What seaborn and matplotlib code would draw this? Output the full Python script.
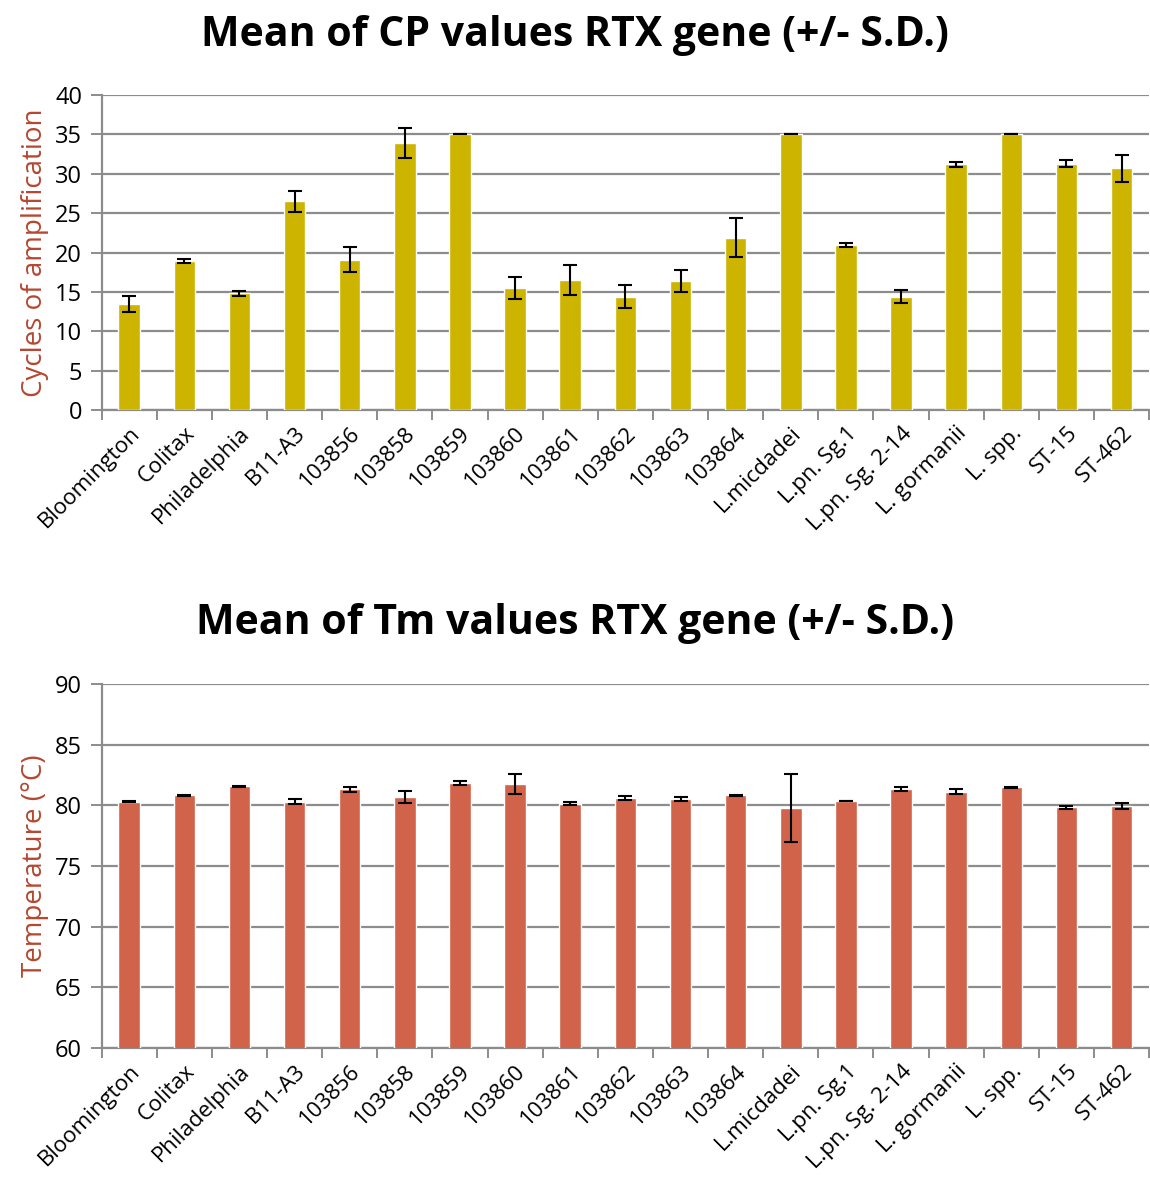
import numpy as np
import pandas as pd
import matplotlib
matplotlib.use("Agg")
import matplotlib.pyplot as plt
import seaborn as sns

# === Data ===
strains = ["Bloomington", "Colitax", "Philadelphia", "B11-A3", "103856", "103858",
           "103859", "103860", "103861", "103862", "103863", "103864", "L.micdadei",
           "L.pn. Sg.1", "L.pn. Sg. 2-14", "L. gormanii", "L. spp.", "ST-15", "ST-462"]

cp_mean = [13.5, 18.9, 14.8, 26.5, 19.1, 33.9, 35.0, 15.5, 16.5, 14.4, 16.4, 21.9,
           35.0, 21.0, 14.4, 31.2, 35.0, 31.3, 30.7]
cp_sd = [1.0, 0.23, 0.34, 1.33, 1.55, 1.93, 0.0, 1.38, 1.88, 1.46, 1.44, 2.43,
         0.0, 0.25, 0.85, 0.3, 0.0, 0.47, 1.7]

tm_mean = [80.29, 80.82, 81.56, 80.29, 81.31, 80.68, 81.86, 81.75, 80.13, 80.57,
           80.51, 80.82, 79.80, 80.35, 81.37, 81.12, 81.48, 79.83, 79.96]
tm_sd = [0.04, 0.04, 0.04, 0.2, 0.2, 0.48, 0.18, 0.8, 0.11, 0.17, 0.18, 0.04,
         2.78, 0.03, 0.16, 0.2, 0.05, 0.1, 0.23]

cp_df = pd.DataFrame({"strain": strains, "value": cp_mean})
tm_df = pd.DataFrame({"strain": strains, "value": tm_mean})

# === Style ===
sns.set_theme(style="white")
plt.rcParams["font.family"] = ["Open Sans", "DejaVu Sans"]
plt.rcParams["text.color"] = "black"
plt.rcParams["xtick.labelcolor"] = "black"
plt.rcParams["ytick.labelcolor"] = "black"

grid_col = "#8c8c8c"
label_col = "#b5472f"

fig = plt.figure(figsize=(11.5, 11.83), dpi=100)
ax1 = fig.add_axes([0.0883, 0.6534, 0.911, 0.2663])
ax2 = fig.add_axes([0.0883, 0.1141, 0.911, 0.3077])


def draw_panel(ax, df, sd, color, ylim, step, ylabel, title, title_y):
    sns.barplot(data=df, x="strain", y="value", color=color, width=0.39,
                saturation=1, errorbar=None, ax=ax, zorder=3)
    ax.errorbar(np.arange(len(df)), df["value"], yerr=sd, fmt="none",
                ecolor="black", elinewidth=1.5, capsize=5, capthick=1.5, zorder=4)
    ax.set_ylim(*ylim)
    ax.set_xlim(-0.5, len(df) - 0.5)
    ax.set_yticks(np.arange(ylim[0], ylim[1] + 1, step))
    ax.yaxis.grid(True, color=grid_col, linewidth=1.6, zorder=0)
    ax.set_axisbelow(True)
    for side in ["top", "right"]:
        ax.spines[side].set_visible(False)
    for side in ["left", "bottom"]:
        ax.spines[side].set_color(grid_col)
        ax.spines[side].set_linewidth(1.6)
    # ticks on category boundaries for x
    ax.set_xticks(np.arange(len(df)))
    ax.set_xticks(np.arange(-0.5, len(df), 1.0), minor=True)
    ax.tick_params(axis="x", which="major", length=0, pad=9)
    ax.tick_params(axis="x", which="minor", length=7, width=1.4,
                   color=grid_col, direction="out", bottom=True)
    ax.tick_params(axis="y", length=8, width=1.4, color=grid_col,
                   direction="out", left=True, labelsize=17, pad=6)
    ax.set_xticklabels(df["strain"], rotation=45, ha="right",
                       rotation_mode="anchor", fontsize=16)
    ax.set_xlabel("")
    ax.set_ylabel(ylabel, color=label_col, fontsize=20, labelpad=4)
    fig.text(0.5, title_y, title, ha="center", va="center",
             fontsize=29.5, fontweight="bold", color="black")


draw_panel(ax1, cp_df, cp_sd, "#ccb400", (0, 40), 5,
           "Cycles of amplification", "Mean of CP values RTX gene (+/- S.D.)", 0.970)
draw_panel(ax2, tm_df, tm_sd, "#d0634a", (60, 90), 5,
           "Temperature (°C)", "Mean of Tm values RTX gene (+/- S.D.)", 0.473)

fig.savefig("out.png", dpi=100)
